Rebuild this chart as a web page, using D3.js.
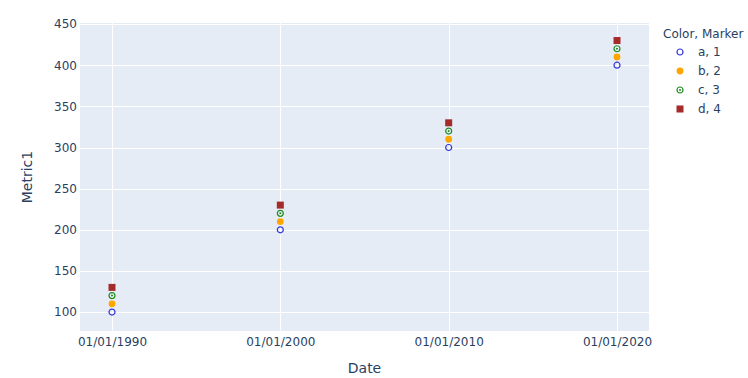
<!DOCTYPE html>
<html>
<head>
<meta charset="utf-8">
<script src="https://cdn.jsdelivr.net/npm/d3@7"></script>
<style>
  body { margin: 0; background: #fff; }
  svg { font-family: "DejaVu Sans", Verdana, Arial, sans-serif; }
</style>
</head>
<body>
<div id="chart"></div>
<script>
const dates = ['1990-01-01', '2000-01-01', '2010-01-01', '2020-01-01'];
const categories = ['a', 'b', 'c', 'd'];
const markerLabels = ['1', '2', '3', '4'];
const metricA = [100, 200, 300, 400];
const metricB = [110, 210, 310, 410];
const metricC = [120, 220, 320, 420];
const metricD = [130, 230, 330, 430];
const yTicks = [100, 150, 200, 250, 300, 350, 400, 450];

const seriesValues = [metricA, metricB, metricC, metricD];
const colors = ['#3535d8', 'orange', '#1f8a1f', 'brown'];
const symbols = ['circle-open', 'circle', 'circle-dot', 'square'];

const width = 748, height = 378;
const margin = { top: 23, right: 99, bottom: 47, left: 80 };
const plotW = width - margin.left - margin.right;
const plotH = height - margin.top - margin.bottom;
const textColor = '#2a3f5f';

const parse = d3.timeParse('%Y-%m-%d');
const dateVals = dates.map(parse);

const svg = d3.select('#chart').append('svg')
  .attr('width', width)
  .attr('height', height);

const t0 = +dateVals[0], t1 = +dateVals[dateVals.length - 1];
const pad = (t1 - t0) * 32 / 505;
const x = d3.scaleTime()
  .domain([new Date(t0 - pad), new Date(t1 + pad)])
  .range([margin.left, margin.left + plotW]);

const y = d3.scaleLinear()
  .domain([77, 451.3])
  .range([margin.top + plotH, margin.top]);

svg.append('rect')
  .attr('x', margin.left).attr('y', margin.top)
  .attr('width', plotW).attr('height', plotH)
  .attr('fill', '#e5ecf6');

// gridlines
svg.append('g').selectAll('line')
  .data(yTicks)
  .join('line')
  .attr('x1', margin.left).attr('x2', margin.left + plotW)
  .attr('y1', d => Math.round(y(d)) + 0.5).attr('y2', d => Math.round(y(d)) + 0.5)
  .attr('stroke', '#fff').attr('stroke-width', 1);

svg.append('g').selectAll('line')
  .data(dateVals)
  .join('line')
  .attr('y1', margin.top).attr('y2', margin.top + plotH)
  .attr('x1', d => Math.round(x(d)) + 0.5).attr('x2', d => Math.round(x(d)) + 0.5)
  .attr('stroke', '#fff').attr('stroke-width', 1);

// axes
const xAxis = d3.axisBottom(x)
  .tickValues(dateVals)
  .tickFormat(d3.timeFormat('%m/%d/%Y'))
  .tickSize(0).tickPadding(6);
const gx = svg.append('g')
  .attr('transform', `translate(0,${margin.top + plotH})`)
  .call(xAxis);
gx.select('.domain').remove();
gx.selectAll('text').attr('fill', textColor).attr('font-size', 12)
  .attr('font-family', '"DejaVu Sans", Verdana, Arial, sans-serif');

const yAxis = d3.axisLeft(y)
  .tickValues(yTicks)
  .tickSize(0).tickPadding(3);
const gy = svg.append('g')
  .attr('transform', `translate(${margin.left},0)`)
  .call(yAxis);
gy.select('.domain').remove();
gy.selectAll('text').attr('fill', textColor).attr('font-size', 12)
  .attr('font-family', '"DejaVu Sans", Verdana, Arial, sans-serif');

svg.append('text')
  .attr('x', margin.left + plotW / 2).attr('y', 373)
  .attr('text-anchor', 'middle')
  .attr('fill', textColor).attr('font-size', 14)
  .text('Date');

svg.append('text')
  .attr('transform', `translate(32,${margin.top + plotH / 2}) rotate(-90)`)
  .attr('text-anchor', 'middle')
  .attr('fill', textColor).attr('font-size', 14)
  .text('Metric1');

function drawMarker(g, symbol, color) {
  if (symbol === 'circle-open') {
    g.append('circle').attr('r', 3).attr('fill', 'none')
      .attr('stroke', color).attr('stroke-width', 1.2);
  } else if (symbol === 'circle') {
    g.append('circle').attr('r', 3.4).attr('fill', color);
  } else if (symbol === 'circle-dot') {
    g.append('circle').attr('r', 3).attr('fill', 'none')
      .attr('stroke', color).attr('stroke-width', 1.2);
    g.append('circle').attr('r', 1).attr('fill', color);
  } else if (symbol === 'square') {
    g.append('rect').attr('x', -3.5).attr('y', -3.5)
      .attr('width', 7).attr('height', 7).attr('fill', color);
  }
}

// points
categories.forEach((cat, i) => {
  const g = svg.append('g').attr('class', 'series-' + cat);
  seriesValues[i].forEach((v, j) => {
    const m = g.append('g')
      .attr('transform', `translate(${x(dateVals[j])},${y(v)})`);
    drawMarker(m, symbols[i], colors[i]);
  });
});

// legend
const legend = svg.append('g').attr('transform', 'translate(663,0)');
legend.append('text')
  .attr('x', 0).attr('y', 38)
  .attr('fill', textColor).attr('font-size', 12)
  .text('Color, Marker');

categories.forEach((cat, i) => {
  const yy = 52 + i * 19;
  const m = legend.append('g').attr('transform', `translate(17,${yy})`);
  drawMarker(m, symbols[i], colors[i]);
  legend.append('text')
    .attr('x', 35).attr('y', yy + 4)
    .attr('fill', textColor).attr('font-size', 12)
    .text(`${cat}, ${markerLabels[i]}`);
});
</script>
</body>
</html>
